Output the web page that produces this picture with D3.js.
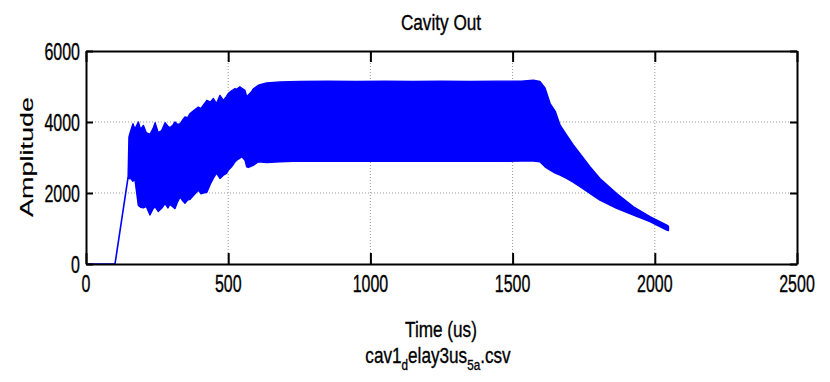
<!DOCTYPE html>
<html>
<head>
<meta charset="utf-8">
<script src="https://cdn.jsdelivr.net/npm/d3@7"></script>
<style>
  html, body { margin: 0; padding: 0; background: #fff; }
  svg { display: block; }
  text { font-family: "Liberation Sans", Arial, sans-serif; fill: #000; stroke: #000; stroke-width: 0.35px; }
  text.ylab { stroke-width: 0.1px; }
</style>
</head>
<body>
<svg id="chart" width="830" height="382"></svg>
<script>
// Axis ticks
const xTicks = [0, 500, 1000, 1500, 2000, 2500];
const yTicks = [0, 2000, 4000, 6000];

// Single-valued lead-in before the cavity fills (time in us, amplitude)
const leadTime = [0, 102, 148];
const leadAmp  = [0, 0, 2450];

// Envelope of the RF oscillation: time (us), upper and lower amplitude
const envTime = [148, 151, 156, 165, 172, 184, 192, 202, 212, 225, 236, 243, 254, 266, 278, 288, 295, 304, 313, 322, 331, 340, 348, 357, 366, 380, 395, 404, 412, 425, 437, 448, 459, 471, 483, 494, 500, 512, 524, 530, 541, 548, 559, 565, 571, 582, 588, 606, 635, 682, 750, 850, 950, 1050, 1150, 1250, 1350, 1450, 1530, 1573, 1596, 1614, 1632, 1650, 1667, 1690, 1714, 1737, 1772, 1807, 1866, 1925, 1983, 2042, 2048];
const envUpper = [2450, 3580, 3720, 3950, 3800, 4000, 3800, 3900, 3700, 3650, 3820, 3980, 3700, 3760, 3980, 3880, 3840, 3900, 4000, 3930, 3950, 4060, 4145, 4120, 4240, 4330, 4420, 4380, 4470, 4610, 4560, 4660, 4520, 4750, 4610, 4720, 4800, 4880, 4940, 4920, 4990, 4950, 4890, 4710, 4760, 4850, 4930, 5035, 5100, 5130, 5140, 5150, 5140, 5150, 5140, 5150, 5140, 5150, 5150, 5180, 5140, 4960, 4520, 4300, 3910, 3630, 3350, 3110, 2740, 2410, 1988, 1613, 1332, 1097, 1060];
const envLower = [2450, 2400, 2420, 2330, 2380, 1650, 1600, 1580, 1620, 1380, 1560, 1610, 1480, 1570, 1700, 1580, 1680, 1620, 1560, 1750, 1890, 1780, 1710, 1800, 1820, 1950, 2080, 1980, 2000, 2020, 2250, 2420, 2560, 2410, 2500, 2550, 2640, 2740, 2880, 2925, 2980, 3020, 2925, 2740, 2720, 2760, 2780, 2880, 2860, 2880, 2900, 2890, 2900, 2890, 2900, 2890, 2900, 2890, 2900, 2900, 2878, 2738, 2644, 2560, 2504, 2410, 2300, 2175, 1988, 1800, 1566, 1378, 1191, 956, 940];

const svg = d3.select("#chart");
const plotL = 86, plotR = 797, plotT = 51, plotB = 264;

const x = d3.scaleLinear().domain([0, 2500]).range([plotL, plotR]);
const y = d3.scaleLinear().domain([0, 6000]).range([plotB, plotT]);

const blue = "#0000ff";

// Dotted grid
const grid = svg.append("g").attr("stroke", "#9a9a9a").attr("stroke-width", 1)
  .attr("stroke-dasharray", "1,2");
xTicks.slice(1, -1).forEach(t => grid.append("line")
  .attr("x1", x(t)).attr("x2", x(t)).attr("y1", plotT).attr("y2", plotB));
yTicks.slice(1, -1).forEach(t => grid.append("line")
  .attr("x1", plotL).attr("x2", plotR).attr("y1", y(t)).attr("y2", y(t)));

// Oscillation band
const envData = envTime.map((t, i) => ({ t, hi: envUpper[i], lo: envLower[i] }));
const area = d3.area().x(d => x(d.t)).y0(d => y(d.lo)).y1(d => y(d.hi));
svg.append("path").datum(envData).attr("d", area).attr("fill", blue)
  .attr("stroke", blue).attr("stroke-width", 1.4).attr("stroke-linejoin", "round");

// Lead-in trace
const leadData = leadTime.map((t, i) => ({ t, v: leadAmp[i] }));
svg.append("path").datum(leadData)
  .attr("d", d3.line().x(d => x(d.t)).y(d => y(d.v)))
  .attr("fill", "none").attr("stroke", blue).attr("stroke-width", 1.6);

// Axes box and inward ticks via d3 axes
const box = svg.append("g");
const axB = d3.axisBottom(x).tickValues(xTicks).tickSizeInner(-11).tickSizeOuter(0).tickFormat("");
const axT = d3.axisTop(x).tickValues(xTicks).tickSizeInner(-11).tickSizeOuter(0).tickFormat("");
const axL = d3.axisLeft(y).tickValues(yTicks).tickSizeInner(-7).tickSizeOuter(0).tickFormat("");
const axR = d3.axisRight(y).tickValues(yTicks).tickSizeInner(-7).tickSizeOuter(0).tickFormat("");
box.append("g").attr("transform", `translate(0,${plotB})`).call(axB);
box.append("g").attr("transform", `translate(0,${plotT})`).call(axT);
box.append("g").attr("transform", `translate(${plotL},0)`).call(axL);
box.append("g").attr("transform", `translate(${plotR},0)`).call(axR);
box.selectAll(".domain").attr("stroke", "#000").attr("stroke-width", 2);
box.selectAll(".tick line").attr("stroke", "#000").attr("stroke-width", 2);

// Condensed text helper
function label(px, py, str, size, sx, anchor, rot) {
  const g = svg.append("g").attr("transform",
    `translate(${px},${py})` + (rot ? ` rotate(${rot})` : "") + ` scale(${sx},1)`);
  return g.append("text").attr("font-size", size).attr("text-anchor", anchor || "middle").text(str);
}

xTicks.forEach(t => label(x(t), 292, String(t), 23.5, 0.68, "middle"));
yTicks.forEach(t => label(80, y(t) + 9, String(t), 23.5, 0.68, "end"));

label(441, 30, "Cavity Out", 21.5, 0.8, "middle");
label(441, 337, "Time (us)", 22, 0.78, "middle");
label(33, 157, "Amplitude", 18, 1.5, "middle", -90).attr("class", "ylab");

// File name with TeX-style subscripts
const fn = svg.append("g").attr("transform", "translate(438,363) scale(0.78,1)")
  .append("text").attr("font-size", 22).attr("text-anchor", "middle");
fn.append("tspan").text("cav1");
fn.append("tspan").attr("font-size", 15).attr("dy", 7).text("d");
fn.append("tspan").attr("dy", -7).text("elay3us");
fn.append("tspan").attr("font-size", 15).attr("dy", 7).text("5a");
fn.append("tspan").attr("dy", -7).text(".csv");
</script>
</body>
</html>
